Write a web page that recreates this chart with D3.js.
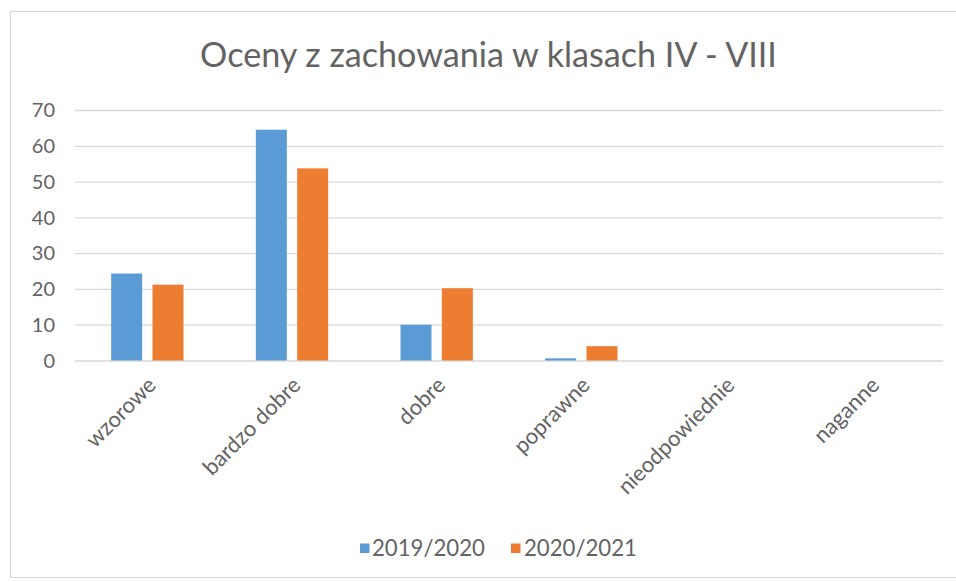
<!DOCTYPE html>
<html>
<head>
<meta charset="utf-8">
<script src="https://cdn.jsdelivr.net/npm/d3@7"></script>
<style>
  html, body { margin: 0; padding: 0; background: #fff; }
  svg { display: block; font-family: Lato, "Open Sans", sans-serif; }
</style>
</head>
<body>
<svg id="chart" width="956" height="582"></svg>
<script>
const title = "Oceny z zachowania w klasach IV - VIII";
const categories = ["wzorowe", "bardzo dobre", "dobre", "poprawne", "nieodpowiednie", "naganne"];
const seriesNames = ["2019/2020", "2020/2021"];
const values2019 = [24.3, 64.5, 10, 0.6, 0, 0];
const values2020 = [21.2, 53.7, 20.2, 4, 0, 0];
const yTicks = [0, 10, 20, 30, 40, 50, 60, 70];
const colors = ["#5B9BD5", "#ED7D31"];

const seriesValues = [values2019, values2020];
const svg = d3.select("#chart");
const plot = { left: 75, right: 943, top: 110, bottom: 360.5 };
const textColor = "#636363";

// border
svg.append("rect")
  .attr("x", 10.5).attr("y", 11.5)
  .attr("width", 960).attr("height", 566)
  .attr("fill", "#fff").attr("stroke", "#d9d9d9").attr("stroke-width", 1.2);

const y = d3.scaleLinear().domain([0, 70]).range([plot.bottom, plot.top]);
const x = d3.scaleBand().domain(categories).range([plot.left, plot.right])
  .paddingInner(0.5).paddingOuter(0.25);
const xs = d3.scaleBand().domain(seriesNames).range([0, x.bandwidth()])
  .paddingInner(0.25).paddingOuter(0);

// gridlines + y axis
const yAxis = d3.axisLeft(y).tickValues(yTicks).tickSize(-(plot.right - plot.left)).tickPadding(20);
const gy = svg.append("g").attr("transform", `translate(${plot.left},0)`).call(yAxis);
gy.select(".domain").remove();
gy.selectAll(".tick line").attr("stroke", "#d9d9d9").attr("stroke-width", 1.3);
gy.selectAll(".tick text").attr("fill", textColor).style("font-size", "20px")
  .style("font-family", "Lato, sans-serif").attr("dy", "0.34em");

// bars
const groups = svg.append("g").selectAll("g")
  .data(categories).join("g")
  .attr("transform", d => `translate(${x(d)},0)`);
groups.selectAll("rect")
  .data((c, i) => seriesNames.map((s, k) => ({ s, k, v: seriesValues[k][i] })))
  .join("rect")
  .attr("x", d => xs(d.s))
  .attr("width", xs.bandwidth())
  .attr("y", d => y(d.v))
  .attr("height", d => y(0) - y(d.v))
  .attr("fill", d => colors[d.k]);

// x axis labels
const xAxis = d3.axisBottom(x).tickSize(0).tickPadding(0);
const gx = svg.append("g").attr("transform", `translate(0,${plot.bottom})`).call(xAxis);
gx.select(".domain").remove();
gx.selectAll(".tick text")
  .attr("fill", textColor)
  .style("font-size", "22px")
  .style("font-family", "Lato, sans-serif")
  .attr("text-anchor", "end")
  .attr("dy", "0")
  .attr("transform", "translate(10,26) rotate(-45)");

// title
const t = svg.append("text")
  .attr("x", 488.5).attr("y", 67)
  .attr("text-anchor", "middle")
  .attr("fill", textColor)
  .style("font-size", "31px")
  .text(title);
const tw = t.node().getComputedTextLength();
t.style("font-size", (31 * 577 / tw).toFixed(2) + "px");

// legend
const legendPos = [{ sx: 360, tx: 372 }, { sx: 511, tx: 524 }];
const lg = svg.append("g");
seriesNames.forEach((s, k) => {
  lg.append("rect").attr("x", legendPos[k].sx).attr("y", 543.5)
    .attr("width", 9.5).attr("height", 9.5).attr("fill", colors[k]);
  const lt = lg.append("text").attr("x", legendPos[k].tx).attr("y", 548)
    .attr("dy", "0.35em").attr("fill", textColor).style("font-size", "20px").text(s);
  const w = lt.node().getComputedTextLength();
  lt.style("font-size", (20 * 113 / w).toFixed(2) + "px");
});
</script>
</body>
</html>
